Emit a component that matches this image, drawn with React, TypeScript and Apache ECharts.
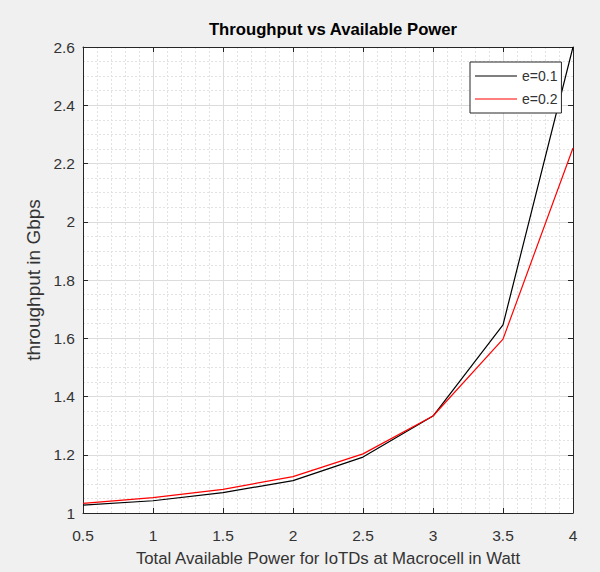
import React, { useEffect, useRef } from "react";
import * as echarts from "echarts";

const power = [0.5, 1, 1.5, 2, 2.5, 3, 3.5, 4];
const throughputE01 = [1.027, 1.042, 1.070, 1.111, 1.192, 1.333, 1.646, 2.6];
const throughputE02 = [1.033, 1.053, 1.081, 1.125, 1.203, 1.333, 1.597, 2.253];
const seriesNames = ["e=0.1", "e=0.2"];
const seriesColors = ["#000000", "#ff0000"];

const FONT = "Liberation Sans";
const AXIS_COLOR = "#262626";
const TEXT_COLOR = "#333333";

export default function App() {
  const ref = useRef<HTMLDivElement>(null);
  useEffect(() => {
    if (!ref.current) return;
    const chart = echarts.init(ref.current, null, { renderer: "svg" });
    const mainX = {
      type: "value",
      min: 0.5,
      max: 4,
      interval: 0.5,
      position: "bottom",
      name: "Total Available Power for IoTDs at Macrocell in Watt",
      nameLocation: "middle",
      nameGap: 37,
      nameTextStyle: { fontFamily: FONT, fontSize: 16.8, color: TEXT_COLOR },
      axisLine: { show: true, onZero: false, lineStyle: { color: AXIS_COLOR, width: 1 } },
      axisTick: { show: true, inside: true, length: 5, lineStyle: { color: AXIS_COLOR } },
      minorTick: { show: false, splitNumber: 5 },
      axisLabel: { fontFamily: FONT, fontSize: 15.5, color: TEXT_COLOR, margin: 14 },
      splitLine: { show: true, lineStyle: { color: "#dcdcdc", width: 1 } },
      minorSplitLine: { show: true, lineStyle: { color: "#e2e2e2", type: [2, 2], width: 1 } },
    };
    const mainY = {
      type: "value",
      min: 1,
      max: 2.6,
      interval: 0.2,
      position: "left",
      name: "throughput in Gbps",
      nameLocation: "middle",
      nameGap: 36,
      nameTextStyle: { fontFamily: FONT, fontSize: 19, color: TEXT_COLOR },
      axisLine: { show: true, onZero: false, lineStyle: { color: AXIS_COLOR, width: 1 } },
      axisTick: { show: true, inside: true, length: 5, lineStyle: { color: AXIS_COLOR } },
      minorTick: { show: false, splitNumber: 4 },
      axisLabel: {
        fontFamily: FONT,
        fontSize: 15.5,
        color: TEXT_COLOR,
        margin: 8,
        formatter: (v: number) => String(Math.round(v * 10) / 10),
      },
      splitLine: { show: true, lineStyle: { color: "#dcdcdc", width: 1 } },
      minorSplitLine: { show: true, lineStyle: { color: "#e2e2e2", type: [2, 2], width: 1 } },
    };
    chart.setOption({
      animation: false,
      backgroundColor: "#f0f0f0",
      title: {
        text: "Throughput vs Available Power",
        left: 328,
        textAlign: "center",
        top: 16,
        textStyle: { fontFamily: FONT, fontSize: 16.7, fontWeight: "bold", color: "#000000" },
      },
      grid: {
        left: 83,
        right: 27,
        top: 47,
        bottom: 59,
        show: true,
        backgroundColor: "#ffffff",
        borderWidth: 0,
      },
      legend: {
        orient: "vertical",
        left: 470,
        top: 62,
        itemWidth: 42,
        itemHeight: 1,
        itemGap: 9,
        icon: "rect",
        padding: [7, 4, 7, 5],
        backgroundColor: "#ffffff",
        borderColor: AXIS_COLOR,
        borderWidth: 1,
        borderRadius: 0,
        textStyle: { fontFamily: FONT, fontSize: 14, color: TEXT_COLOR },
        data: seriesNames.map((n, i) => ({ name: n, icon: "rect", itemStyle: { color: seriesColors[i] } })),
      },
      xAxis: [
        mainX,
        {
          type: "value",
          min: 0.5,
          max: 4,
          interval: 0.5,
          position: "top",
          axisLine: { show: true, onZero: false, lineStyle: { color: AXIS_COLOR, width: 1 } },
          axisTick: { show: true, inside: true, length: 5, lineStyle: { color: AXIS_COLOR } },
          axisLabel: { show: false },
          splitLine: { show: false },
        },
      ],
      yAxis: [
        mainY,
        {
          type: "value",
          min: 1,
          max: 2.6,
          interval: 0.2,
          position: "right",
          axisLine: { show: true, onZero: false, lineStyle: { color: AXIS_COLOR, width: 1 } },
          axisTick: { show: true, inside: true, length: 5, lineStyle: { color: AXIS_COLOR } },
          axisLabel: { show: false },
          splitLine: { show: false },
        },
      ],
      series: [
        {
          name: seriesNames[0],
          type: "line",
          data: power.map((p, i) => [p, throughputE01[i]]),
          symbol: "none",
          lineStyle: { color: seriesColors[0], width: 1.2 },
          itemStyle: { color: seriesColors[0] },
          z: 3,
        },
        {
          name: seriesNames[1],
          type: "line",
          data: power.map((p, i) => [p, throughputE02[i]]),
          symbol: "none",
          lineStyle: { color: seriesColors[1], width: 1.2 },
          itemStyle: { color: seriesColors[1] },
          z: 3,
        },
      ],
    });
    return () => chart.dispose();
  }, []);
  return <div ref={ref} style={{ width: 600, height: 572, position: "absolute", left: 0, top: 0 }} />;
}
